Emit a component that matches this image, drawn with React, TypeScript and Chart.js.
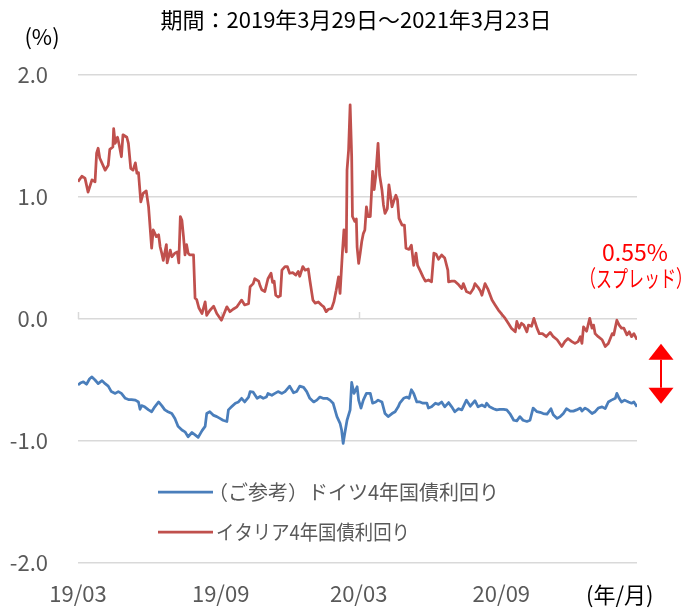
import { useEffect, useRef } from "react";
import { Chart, registerables } from "chart.js";

Chart.register(...registerables);

const titleText = "期間：2019年3月29日～2021年3月23日";
const yUnit = "(%)";
const xUnit = "(年/月)";
const tickDays = [0, 184, 362, 546];
const tickLabels = ["19/03", "19/09", "20/03", "20/09"];
const yTicks = [2, 1, 0, -1, -2];
const seriesNames = ["イタリア4年国債利回り", "（ご参考）ドイツ4年国債利回り"];
const spreadCaption = "（スプレッド）";
const lastDay = 721;

// days since 2019-03-29
const italyDays = [
  0, 5, 9, 13, 18, 22, 24, 26, 28, 35,
  39, 41, 45, 46, 48, 51, 53, 56, 58, 63,
  65, 68, 71, 74, 76, 78, 81, 84, 88, 91,
  95, 97, 101, 104, 106, 108, 110, 114, 115, 119,
  121, 125, 128, 130, 132, 134, 136, 138, 140, 142,
  144, 149, 151, 153, 156, 160, 164, 166, 170, 175,
  179, 185, 192, 196, 200, 205, 211, 215, 220, 222,
  226, 228, 233, 235, 237, 241, 245, 249, 251, 253,
  255, 258, 261, 263, 267, 270, 273, 277, 281, 284,
  286, 290, 293, 297, 299, 303, 306, 310, 314, 317,
  320, 323, 327, 330, 333, 336, 338, 341, 343, 346,
  347, 349, 351, 353, 354, 357, 359, 360, 362, 364,
  366, 368, 370, 372, 374, 377, 380, 382, 384, 387,
  389, 392, 394, 396, 399, 401, 402, 405, 408, 410,
  412, 414, 418, 421, 423, 427, 430, 433, 436, 438,
  441, 445, 448, 452, 456, 459, 462, 465, 469, 473,
  477, 478, 482, 486, 491, 495, 497, 501, 506, 510,
  512, 516, 519, 521, 525, 529, 534, 538, 542, 547,
  551, 555, 559, 564, 566, 569, 572, 575, 579, 581,
  585, 588, 592, 595, 599, 604, 609, 613, 618, 624,
  628, 632, 637, 641, 645, 648, 650, 652, 656, 660,
  663, 665, 667, 671, 676, 680, 684, 689, 691, 695,
  698, 701, 704, 708, 711, 714, 717, 721,
];
const italyYield = [
  1.125, 1.17, 1.155, 1.04, 1.14, 1.125, 1.36, 1.40, 1.32, 1.22,
  1.26, 1.39, 1.41, 1.56, 1.44, 1.49, 1.43, 1.33, 1.51, 1.49,
  1.44, 1.235, 1.22, 1.28, 1.195, 1.20, 0.96, 1.03, 1.05, 0.92,
  0.58, 0.73, 0.675, 0.69, 0.59, 0.54, 0.48, 0.61, 0.46, 0.565,
  0.51, 0.54, 0.55, 0.46, 0.84, 0.81, 0.68, 0.525, 0.61, 0.54,
  0.525, 0.525, 0.17, 0.16, 0.09, 0.045, 0.14, 0.03, 0.07, 0.105,
  0.045, -0.01, 0.10, 0.06, 0.08, 0.10, 0.155, 0.115, 0.125, 0.265,
  0.29, 0.33, 0.31, 0.27, 0.24, 0.225, 0.33, 0.375, 0.30, 0.31,
  0.195, 0.18, 0.19, 0.40, 0.43, 0.43, 0.375, 0.38, 0.36, 0.39,
  0.35, 0.43, 0.40, 0.41, 0.32, 0.155, 0.13, 0.14, 0.115, 0.10,
  0.06, 0.08, 0.085, 0.14, 0.235, 0.345, 0.21, 0.54, 0.73, 0.55,
  1.22, 1.385, 1.755, 1.33, 0.84, 0.80, 0.82, 0.59, 0.455, 0.54,
  0.635, 0.70, 0.73, 0.92, 0.84, 0.84, 1.21, 1.06, 1.17, 1.44,
  1.18, 1.06, 0.935, 0.865, 0.905, 1.10, 1.06, 0.92, 0.98, 1.015,
  0.98, 0.825, 0.77, 0.77, 0.58, 0.57, 0.605, 0.44, 0.54, 0.44,
  0.40, 0.345, 0.31, 0.32, 0.305, 0.54, 0.53, 0.49, 0.525, 0.50,
  0.40, 0.305, 0.31, 0.31, 0.28, 0.25, 0.29, 0.225, 0.21, 0.25,
  0.29, 0.26, 0.23, 0.195, 0.29, 0.24, 0.155, 0.115, 0.075, 0.035,
  0.005, -0.035, -0.075, -0.105, -0.02, -0.075, -0.035, -0.05, -0.105, -0.05,
  -0.06, 0.005, -0.075, -0.12, -0.12, -0.145, -0.11, -0.145, -0.17, -0.225,
  -0.185, -0.16, -0.185, -0.20, -0.185, -0.145, -0.20, -0.065, -0.10, 0.005,
  -0.075, -0.05, -0.12, -0.145, -0.17, -0.225, -0.20, -0.12, -0.13, -0.01,
  -0.05, -0.075, -0.075, -0.13, -0.105, -0.145, -0.12, -0.17,
];

const germanyDays = [
  0, 3, 7, 11, 15, 18, 22, 26, 31, 35,
  39, 43, 48, 52, 56, 61, 65, 69, 74, 78,
  80, 82, 86, 91, 95, 99, 104, 108, 112, 116,
  121, 125, 129, 134, 138, 142, 147, 151, 155, 160,
  164, 166, 170, 175, 179, 183, 187, 192, 194, 198,
  203, 207, 211, 215, 220, 222, 226, 231, 235, 239,
  243, 245, 250, 254, 258, 263, 267, 273, 278, 282,
  286, 291, 295, 299, 304, 308, 312, 316, 321, 325,
  329, 334, 338, 340, 342, 344, 347, 351, 353, 356,
  360, 362, 365, 368, 372, 377, 380, 384, 387, 392,
  396, 400, 405, 409, 413, 415, 420, 424, 427, 430,
  433, 437, 441, 445, 450, 452, 456, 461, 465, 469,
  473, 478, 482, 486, 491, 495, 501, 506, 512, 516,
  521, 525, 527, 531, 536, 540, 544, 549, 553, 557,
  562, 566, 570, 574, 579, 583, 587, 592, 596, 600,
  605, 610, 613, 618, 622, 626, 630, 635, 639, 643,
  648, 650, 654, 658, 663, 667, 671, 676, 680, 684,
  688, 693, 695, 698, 701, 705, 710, 714, 717, 721,
];
const germanyYield = [
  -0.54, -0.525, -0.515, -0.535, -0.49, -0.475, -0.50, -0.53, -0.505, -0.53,
  -0.55, -0.595, -0.61, -0.595, -0.61, -0.65, -0.66, -0.66, -0.665, -0.68,
  -0.74, -0.71, -0.72, -0.745, -0.76, -0.72, -0.68, -0.71, -0.745, -0.76,
  -0.775, -0.815, -0.88, -0.91, -0.925, -0.965, -0.93, -0.95, -0.97, -0.915,
  -0.88, -0.775, -0.76, -0.79, -0.80, -0.815, -0.83, -0.84, -0.745, -0.72,
  -0.69, -0.68, -0.65, -0.68, -0.64, -0.595, -0.60, -0.65, -0.635, -0.65,
  -0.64, -0.61, -0.625, -0.61, -0.595, -0.61, -0.595, -0.55, -0.605, -0.595,
  -0.55, -0.56, -0.595, -0.65, -0.68, -0.665, -0.64, -0.65, -0.65, -0.665,
  -0.69, -0.80, -0.855, -0.91, -1.02, -0.94, -0.83, -0.745, -0.52, -0.61,
  -0.555, -0.665, -0.73, -0.665, -0.61, -0.61, -0.69, -0.68, -0.665, -0.68,
  -0.775, -0.80, -0.775, -0.76, -0.72, -0.69, -0.65, -0.64, -0.65, -0.58,
  -0.61, -0.68, -0.68, -0.69, -0.69, -0.73, -0.72, -0.69, -0.70, -0.68,
  -0.72, -0.685, -0.72, -0.76, -0.735, -0.745, -0.665, -0.715, -0.67, -0.72,
  -0.705, -0.72, -0.69, -0.72, -0.735, -0.745, -0.74, -0.74, -0.745, -0.775,
  -0.83, -0.835, -0.80, -0.83, -0.84, -0.83, -0.73, -0.76, -0.765, -0.775,
  -0.78, -0.735, -0.785, -0.815, -0.80, -0.775, -0.735, -0.755, -0.755, -0.745,
  -0.73, -0.755, -0.73, -0.745, -0.775, -0.76, -0.73, -0.72, -0.735, -0.68,
  -0.665, -0.65, -0.61, -0.65, -0.68, -0.665, -0.68, -0.69, -0.68, -0.72,
];

const FONT = '"Noto Sans CJK JP", "Noto Sans", sans-serif';
const RED = "#C0504D";
const BLUE = "#4A7EBB";
const GRID = "#D9D9D9";
const TEXT_GREY = "#595959";

const decorPlugin = {
  id: "decor",
  beforeDatasetsDraw(chart: any) {
    const { ctx, scales } = chart;
    const y0 = scales.y.getPixelForValue(0);
    ctx.save();
    ctx.strokeStyle = GRID;
    ctx.lineWidth = 1.5;
    tickDays.forEach((d) => {
      const px = Math.round(scales.x.getPixelForValue(d)) + 0.5;
      ctx.beginPath();
      ctx.moveTo(px, y0 - 7);
      ctx.lineTo(px, y0);
      ctx.stroke();
    });
    ctx.restore();
  },
  afterDraw(chart: any) {
    const { ctx, scales } = chart;
    const ds = chart.data.datasets;
    ctx.save();
    ctx.textBaseline = "middle";

    // title & units
    ctx.fillStyle = "#000000";
    ctx.font = `22px ${FONT}`;
    ctx.textAlign = "center";
    ctx.fillText(titleText, 356, 20);
    ctx.fillText(yUnit, 42, 37);
    ctx.textAlign = "left";
    ctx.fillText(xUnit, 586, 595);

    // legend (Germany first, then Italy)
    const legendRows = [
      { idx: 1, y: 492, tx: 208, maxW: 292 },
      { idx: 0, y: 532, tx: 216, maxW: 194 },
    ];
    legendRows.forEach((r) => {
      ctx.strokeStyle = ds[r.idx].borderColor;
      ctx.lineWidth = 2.75;
      ctx.beginPath();
      ctx.moveTo(158, r.y);
      ctx.lineTo(213, r.y);
      ctx.stroke();
      ctx.fillStyle = TEXT_GREY;
      ctx.font = `20px ${FONT}`;
      ctx.textAlign = "left";
      ctx.fillText(ds[r.idx].label, r.tx, r.y, r.maxW);
    });

    // spread annotation
    const lastIt = italyYield[italyYield.length - 1];
    const lastDe = germanyYield[germanyYield.length - 1];
    const spread = lastIt - lastDe;
    ctx.fillStyle = "#FF0000";
    ctx.textAlign = "center";
    ctx.font = `23px ${FONT}`;
    ctx.fillText(`${spread.toFixed(2)}%`, 635, 252);
    ctx.font = `23px ${FONT}`;
    ctx.fillText(spreadCaption, 636, 278, 112);

    // double arrow
    const ax = 661;
    const top = scales.y.getPixelForValue(lastIt) + 4;
    const bot = scales.y.getPixelForValue(lastDe) - 3;
    const hw = 12.5;
    const hh = 16;
    ctx.strokeStyle = "#FF0000";
    ctx.lineWidth = 2;
    ctx.beginPath();
    ctx.moveTo(ax, top + hh);
    ctx.lineTo(ax, bot - hh);
    ctx.stroke();
    ctx.beginPath();
    ctx.moveTo(ax, top);
    ctx.lineTo(ax + hw, top + hh);
    ctx.lineTo(ax - hw, top + hh);
    ctx.closePath();
    ctx.fill();
    ctx.beginPath();
    ctx.moveTo(ax, bot);
    ctx.lineTo(ax + hw, bot - hh);
    ctx.lineTo(ax - hw, bot - hh);
    ctx.closePath();
    ctx.fill();
    ctx.restore();
  },
};

export default function App() {
  const ref = useRef<HTMLCanvasElement | null>(null);

  useEffect(() => {
    document.body.style.margin = "0";
    const canvas = ref.current;
    if (!canvas) return;
    const chart = new Chart(canvas, {
      type: "line",
      data: {
        datasets: [
          {
            label: seriesNames[0],
            data: italyDays.map((d, i) => ({ x: d, y: italyYield[i] })),
            borderColor: RED,
            backgroundColor: RED,
            borderWidth: 2.75,
            pointRadius: 0,
            tension: 0,
            borderJoinStyle: "round",
          },
          {
            label: seriesNames[1],
            data: germanyDays.map((d, i) => ({ x: d, y: germanyYield[i] })),
            borderColor: BLUE,
            backgroundColor: BLUE,
            borderWidth: 2.75,
            pointRadius: 0,
            tension: 0,
            borderJoinStyle: "round",
          },
        ],
      },
      options: {
        responsive: false,
        animation: false,
        layout: { padding: { top: 75, right: 46, bottom: 0, left: 0 } },
        plugins: {
          legend: { display: false },
          tooltip: { enabled: false },
          title: { display: false },
        },
        scales: {
          x: {
            type: "linear",
            min: 0,
            max: lastDay,
            grid: { display: false },
            border: { display: false },
            afterBuildTicks: (s: any) => {
              s.ticks = tickDays.map((v) => ({ value: v }));
            },
            afterFit: (s: any) => {
              s.height = 48;
            },
            ticks: {
              autoSkip: false,
              maxRotation: 0,
              minRotation: 0,
              padding: 9,
              color: TEXT_GREY,
              font: { family: FONT, size: 22 },
              callback: (_v: any, i: number) => tickLabels[i],
            },
          },
          y: {
            min: -2,
            max: 2,
            afterBuildTicks: (s: any) => {
              s.ticks = yTicks.map((v) => ({ value: v }));
            },
            afterFit: (s: any) => {
              s.width = 78;
            },
            grid: { color: GRID, lineWidth: 1.5, drawTicks: false },
            border: { display: false },
            ticks: {
              padding: 30,
              color: TEXT_GREY,
              font: { family: FONT, size: 22 },
              callback: (v: any) => Number(v).toFixed(1),
            },
          },
        },
      },
      plugins: [decorPlugin],
    } as any);
    return () => chart.destroy();
  }, []);

  return (
    <div style={{ width: 683, height: 611 }}>
      <canvas ref={ref} width={683} height={611} style={{ display: "block" }} />
    </div>
  );
}
